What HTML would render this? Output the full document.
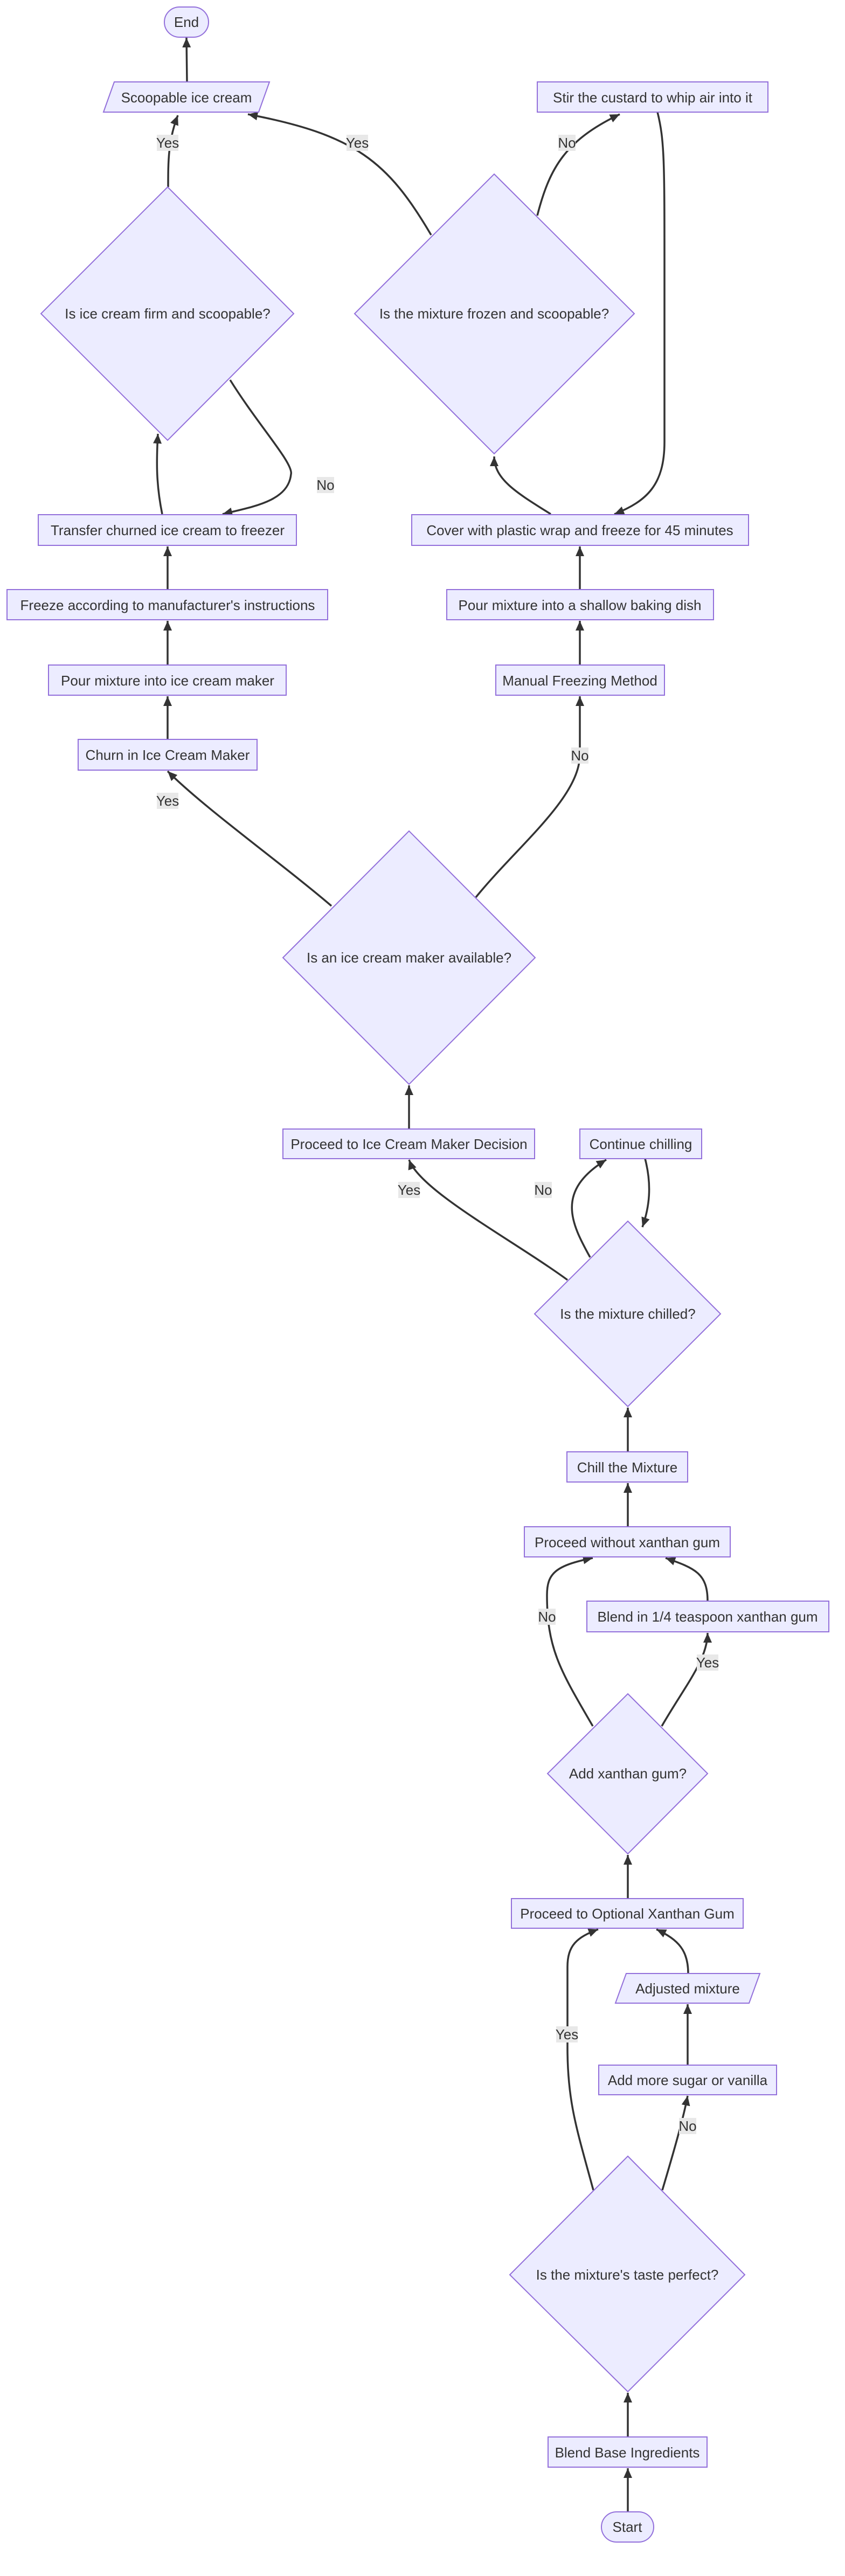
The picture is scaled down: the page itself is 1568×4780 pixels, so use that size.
<!DOCTYPE html>
<html><head><meta charset="utf-8"><style>
html,body{margin:0;padding:0;background:#fff;}
svg{display:block;}
text{font-family:"Liberation Sans",sans-serif;font-size:26px;fill:#333;}
.n{fill:#ECECFF;stroke:#9370DB;stroke-width:2;}
.e{fill:none;stroke:#333;stroke-width:3.5;}
.lb{fill:#e8e8e8;}
</style></head><body>
<svg width="1568" height="4780" viewBox="0 0 1568 4780" xmlns="http://www.w3.org/2000/svg">
<defs>
<marker id="a" markerUnits="userSpaceOnUse" markerWidth="20" markerHeight="20" refX="18" refY="10" orient="auto">
<path d="M0,2 L18,10 L0,18 Z" fill="#333"/>
</marker>
</defs>

<g class="e" marker-end="url(#a)">
<path d="M347,152 L346,70"/>
<path d="M312,347 C312,300 312,260 330,214"/>
<path d="M800,436 C720,300 660,250 460,212"/>
<path d="M997,400 C1020,310 1050,260 1150,212"/>
<path d="M1220,208 C1233,260 1233,300 1233,500 L1233,820 C1233,900 1200,930 1140,954"/>
<path d="M1022,954 C960,915 917,890 917,847"/>
<path d="M301,954 C290,900 290,860 293,805"/>
<path d="M427,705 C480,790 545,860 540,880 C535,930 470,940 413,954"/>
<path d="M311,1094 L311,1014"/>
<path d="M1076,1094 L1076,1014"/>
<path d="M311,1234 L311,1152"/>
<path d="M1076,1234 L1076,1152"/>
<path d="M311,1372 L311,1292"/>
<path d="M615,1681 C520,1600 380,1500 311,1431"/>
<path d="M883,1665 C960,1570 1076,1480 1076,1400 L1076,1292"/>
<path d="M759,2095 L759,2014"/>
<path d="M1053,2375 C950,2300 780,2210 759,2152"/>
<path d="M1095,2333 C1060,2270 1030,2210 1125,2152"/>
<path d="M1197,2150 C1210,2200 1205,2240 1192,2277"/>
<path d="M1165,2694 L1165,2612"/>
<path d="M1165,2833 L1165,2752"/>
<path d="M1100,3203 C1040,3100 1015,3060 1015,2960 C1015,2920 1030,2905 1100,2891"/>
<path d="M1228,3203 C1270,3130 1313,3080 1313,3030"/>
<path d="M1313,2971 C1313,2920 1290,2910 1235,2891"/>
<path d="M1165,3523 L1165,3442"/>
<path d="M1101,4064 C1070,3950 1053,3900 1053,3800 L1053,3650 C1053,3610 1070,3595 1110,3580"/>
<path d="M1229,4064 C1260,3960 1270,3920 1276,3889"/>
<path d="M1276,3832 L1276,3719"/>
<path d="M1277,3662 C1277,3620 1260,3600 1218,3580"/>
<path d="M1165,4661 L1165,4580"/>
<path d="M1165,4522 L1165,4440"/>
</g>

<g>
<rect class="lb" x="291" y="250" width="40" height="30"/><text x="311" y="274" text-anchor="middle">Yes</text>
<rect class="lb" x="643" y="250" width="40" height="30"/><text x="663" y="274" text-anchor="middle">Yes</text>
<rect class="lb" x="1036" y="250" width="32" height="30"/><text x="1052" y="274" text-anchor="middle">No</text>
<rect class="lb" x="588" y="885" width="32" height="30"/><text x="604" y="909" text-anchor="middle">No</text>
<rect class="lb" x="291" y="1471" width="40" height="30"/><text x="311" y="1495" text-anchor="middle">Yes</text>
<rect class="lb" x="1060" y="1387" width="32" height="30"/><text x="1076" y="1411" text-anchor="middle">No</text>
<rect class="lb" x="739" y="2193" width="40" height="30"/><text x="759" y="2217" text-anchor="middle">Yes</text>
<rect class="lb" x="992" y="2193" width="32" height="30"/><text x="1008" y="2217" text-anchor="middle">No</text>
<rect class="lb" x="999" y="2985" width="32" height="30"/><text x="1015" y="3009" text-anchor="middle">No</text>
<rect class="lb" x="1293" y="3070" width="40" height="30"/><text x="1313" y="3094" text-anchor="middle">Yes</text>
<rect class="lb" x="1032" y="3760" width="40" height="30"/><text x="1052" y="3784" text-anchor="middle">Yes</text>
<rect class="lb" x="1260" y="3930" width="32" height="30"/><text x="1276" y="3954" text-anchor="middle">No</text>
</g>

<g>
<rect class="n" x="305" y="13" width="82" height="56" rx="28"/><text x="346" y="50" text-anchor="middle">End</text>
<polygon class="n" points="212,152 500,152 480,208 192,208"/><text x="346" y="190" text-anchor="middle">Scoopable ice cream</text>
<rect class="n" x="997" y="152" width="428" height="56"/><text x="1211" y="190" text-anchor="middle">Stir the custard to whip air into it</text>
<polygon class="n" points="311,347 545,582 311,817 76,582"/><text x="311" y="591" text-anchor="middle">Is ice cream firm and scoopable?</text>
<polygon class="n" points="917,323 1177,582 917,842 658,582"/><text x="917" y="591" text-anchor="middle">Is the mixture frozen and scoopable?</text>
<rect class="n" x="71" y="955" width="479" height="57"/><text x="311" y="993" text-anchor="middle">Transfer churned ice cream to freezer</text>
<rect class="n" x="764" y="955" width="625" height="57"/><text x="1076" y="993" text-anchor="middle">Cover with plastic wrap and freeze for 45 minutes</text>
<rect class="n" x="13" y="1094" width="595" height="56"/><text x="311" y="1132" text-anchor="middle">Freeze according to manufacturer's instructions</text>
<rect class="n" x="829" y="1094" width="495" height="56"/><text x="1076" y="1132" text-anchor="middle">Pour mixture into a shallow baking dish</text>
<rect class="n" x="90" y="1234" width="441" height="56"/><text x="311" y="1272" text-anchor="middle">Pour mixture into ice cream maker</text>
<rect class="n" x="920" y="1234" width="313" height="56"/><text x="1076" y="1272" text-anchor="middle">Manual Freezing Method</text>
<rect class="n" x="145" y="1372" width="332" height="57"/><text x="311" y="1410" text-anchor="middle">Churn in Ice Cream Maker</text>
<polygon class="n" points="759,1542 993,1777 759,2012 525,1777"/><text x="759" y="1786" text-anchor="middle">Is an ice cream maker available?</text>
<rect class="n" x="525" y="2095" width="467" height="55"/><text x="759" y="2132" text-anchor="middle">Proceed to Ice Cream Maker Decision</text>
<rect class="n" x="1076" y="2095" width="226" height="55"/><text x="1189" y="2132" text-anchor="middle">Continue chilling</text>
<polygon class="n" points="1165,2266 1337,2438 1165,2610 992,2438"/><text x="1165" y="2447" text-anchor="middle">Is the mixture chilled?</text>
<rect class="n" x="1052" y="2694" width="224" height="56"/><text x="1164" y="2732" text-anchor="middle">Chill the Mixture</text>
<rect class="n" x="973" y="2833" width="382" height="56"/><text x="1164" y="2871" text-anchor="middle">Proceed without xanthan gum</text>
<rect class="n" x="1089" y="2971" width="449" height="57"/><text x="1313" y="3009" text-anchor="middle">Blend in 1/4 teaspoon xanthan gum</text>
<polygon class="n" points="1165,3143 1313,3291 1165,3440 1016,3291"/><text x="1165" y="3300" text-anchor="middle">Add xanthan gum?</text>
<rect class="n" x="949" y="3523" width="430" height="55"/><text x="1164" y="3560" text-anchor="middle">Proceed to Optional Xanthan Gum</text>
<polygon class="n" points="1162,3662 1410,3662 1390,3717 1142,3717"/><text x="1276" y="3699" text-anchor="middle">Adjusted mixture</text>
<rect class="n" x="1111" y="3832" width="330" height="55"/><text x="1276" y="3869" text-anchor="middle">Add more sugar or vanilla</text>
<polygon class="n" points="1165,4001 1382,4221 1165,4438 946,4221"/><text x="1164" y="4230" text-anchor="middle">Is the mixture's taste perfect?</text>
<rect class="n" x="1017" y="4522" width="295" height="56"/><text x="1164" y="4560" text-anchor="middle">Blend Base Ingredients</text>
<rect class="n" x="1116" y="4661" width="97" height="56" rx="28"/><text x="1164" y="4698" text-anchor="middle">Start</text>
</g>
</svg>
</body></html>
